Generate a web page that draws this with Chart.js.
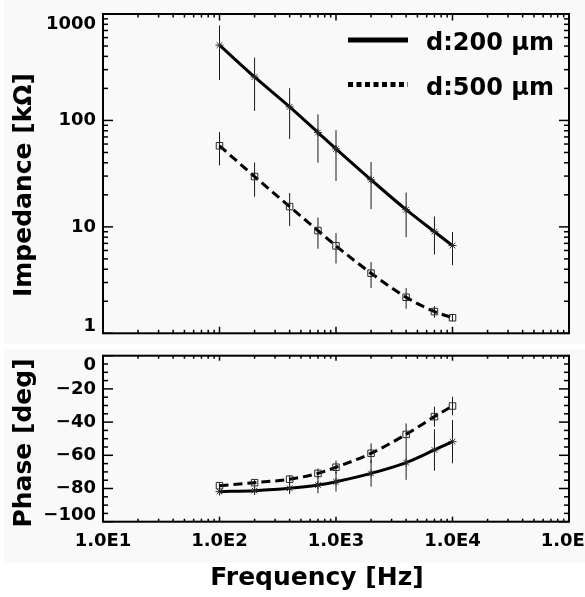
<!DOCTYPE html>
<html><head><meta charset="utf-8">
<script src="https://cdn.jsdelivr.net/npm/chart.js@4.4.0/dist/chart.umd.min.js"></script>
<style>
html,body{margin:0;padding:0;background:#fff;}
#wrap{position:relative;width:585px;height:597px;overflow:hidden;}
.panel{position:absolute;background:#f9f9f9;}
canvas{position:absolute;left:0;}
</style></head><body>
<div id="wrap">
<div class="panel" style="left:4px;top:0;width:581px;height:344px"></div>
<div class="panel" style="left:4px;top:349px;width:581px;height:214px"></div>
<canvas id="c1" width="585" height="345" style="top:0"></canvas>
<canvas id="c2" width="585" height="252" style="top:345px"></canvas>
</div>
<script>
// ---------- data ----------
const frequencies = [100, 200, 400, 700, 1000, 2000, 4000, 7000, 10000];
const seriesLabels = ['d:200 \u03bcm', 'd:500 \u03bcm'];
const impedance200 = [510, 256, 134, 77, 54, 27.7, 14.5, 9.0, 6.67];
const impedance200Err = [270, 133, 67, 37, 27, 13, 6.5, 3.5, 2.3];
const impedance500 = [57.8, 29.7, 15.5, 9.23, 6.63, 3.67, 2.18, 1.60, 1.40];
const impedance500Err = [20, 10.5, 5.3, 3, 2.1, 1.0, 0.48, 0.2, 0.1];
const phase200 = [-81.9, -81.3, -79.9, -77.9, -75.9, -70.9, -64.4, -56.8, -51.8];
const phase200Err = [1.5, 2.6, 3.4, 5, 6, 8, 10.4, 12.5, 13];
const phase500 = [-78.3, -76.5, -74.4, -70.9, -67.2, -58.8, -47.4, -36.7, -30.3];
const phase500Err = [1.5, 1.6, 2.4, 3, 4, 6, 6.6, 6, 5.6];

const freqTickValues = [10, 100, 1000, 10000, 100000];
const freqTickLabels = ['1.0E1', '1.0E2', '1.0E3', '1.0E4', '1.0E5'];
const impTickValues = [1, 10, 100, 1000];
const impTickLabels = ['1', '10', '100', '1000'];
const phaseTickValues = [0, -20, -40, -60, -80, -100];
const phaseTickLabels = ['0', '\u221220', '\u221240', '\u221260', '\u221280', '\u2212100'];

const yTitleTop = 'Impedance [k\u03a9]';
const yTitleBottom = 'Phase [deg]';
const xTitle = 'Frequency [Hz]';

// ---------- helpers ----------
const FONT = '"DejaVu Sans", sans-serif';
function toXY(xs, ys) { return xs.map((x, i) => ({x: x, y: ys[i]})); }
function logMinors(lo, hi) {
  const out = [];
  for (let d = lo; d < hi; d *= 10) for (let k = 2; k <= 9; k++) out.push(k * d);
  return out;
}
function linMinors(lo, hi, step, majorStep) {
  const out = [];
  for (let v = lo; v <= hi + 1e-9; v += step) if (Math.abs(v % majorStep) > 1e-6) out.push(v);
  return out;
}

const errorBars = {
  id: 'errorBars',
  beforeDatasetsDraw(chart) {
    const {ctx, chartArea: a} = chart;
    const xs = chart.scales.x, ys = chart.scales.y;
    const isLog = ys.type === 'logarithmic';
    ctx.save();
    ctx.beginPath(); ctx.rect(a.left, a.top, a.right - a.left, a.bottom - a.top); ctx.clip();
    ctx.strokeStyle = '#1a1a1a'; ctx.lineWidth = 1;
    chart.data.datasets.forEach(ds => {
      if (!ds.errors) return;
      ds.data.forEach((p, i) => {
        const px = xs.getPixelForValue(p.x);
        const e = ds.errors[i];
        const lo = isLog ? Math.max(p.y - e, 1e-6) : p.y - e;
        const y1 = ys.getPixelForValue(p.y + e);
        const y2 = ys.getPixelForValue(lo);
        ctx.beginPath(); ctx.moveTo(px, y1); ctx.lineTo(px, y2); ctx.stroke();
      });
    });
    ctx.restore();
  }
};

const framePlugin = {
  id: 'frame',
  afterDraw(chart, args, o) {
    const {ctx, chartArea: a} = chart;
    const xs = chart.scales.x, ys = chart.scales.y;
    ctx.save();
    ctx.strokeStyle = '#000';
    ctx.lineWidth = 1.5;
    const tick = (x1, y1, x2, y2) => { ctx.beginPath(); ctx.moveTo(x1, y1); ctx.lineTo(x2, y2); ctx.stroke(); };
    o.xMajor.forEach(v => { const px = xs.getPixelForValue(v);
      tick(px, a.bottom, px, a.bottom - o.xMajLen); tick(px, a.top, px, a.top + o.xMajLen); });
    o.xMinor.forEach(v => { const px = xs.getPixelForValue(v);
      tick(px, a.bottom, px, a.bottom - o.xMinLen); tick(px, a.top, px, a.top + o.xMinLen); });
    o.yMajor.forEach(v => { const py = ys.getPixelForValue(v);
      tick(a.left, py, a.left + o.yMajLen, py); tick(a.right, py, a.right - o.yMajLen, py); });
    o.yMinor.forEach(v => { const py = ys.getPixelForValue(v);
      tick(a.left, py, a.left + o.yMinLen, py); tick(a.right, py, a.right - o.yMinLen, py); });
    ctx.lineWidth = 2;
    ctx.strokeRect(a.left, a.top, a.right - a.left, a.bottom - a.top);
    ctx.fillStyle = '#000';
    ctx.font = 'bold 18px ' + FONT;
    ctx.textAlign = 'right'; ctx.textBaseline = 'middle';
    o.yLabelValues.forEach((v, i) => {
      let py = ys.getPixelForValue(v);
      py = Math.min(Math.max(py, a.top + 10), a.bottom - 6.5);
      ctx.fillText(o.yLabels[i], a.left - 7, py);
    });
    if (o.xLabels) {
      ctx.textAlign = 'center';
      o.xLabelValues.forEach((v, i) => {
        ctx.fillText(o.xLabels[i], xs.getPixelForValue(v), a.bottom + 20);
      });
    }
    ctx.font = 'bold 25px ' + FONT;
    ctx.textAlign = 'center'; ctx.textBaseline = 'middle';
    ctx.save();
    ctx.translate(o.yTitlePos[0], o.yTitlePos[1]);
    ctx.rotate(-Math.PI / 2);
    ctx.fillText(o.yTitle, 0, 0);
    ctx.restore();
    if (o.xTitle) ctx.fillText(o.xTitle, o.xTitlePos[0], o.xTitlePos[1]);
    if (o.legend) {
      chart.data.datasets.forEach((ds, i) => {
        const L = o.legend;
        const ly = L.y + i * L.dy;
        ctx.lineWidth = 5; ctx.lineCap = 'butt';
        ctx.setLineDash(i === 0 ? [] : [5, 3.5]);
        ctx.beginPath(); ctx.moveTo(L.x1, ly); ctx.lineTo(L.x2, ly); ctx.stroke();
        ctx.setLineDash([]);
        ctx.font = 'bold 24px ' + FONT;
        ctx.textAlign = 'left'; ctx.textBaseline = 'alphabetic';
        ctx.fillText(ds.label, L.tx, ly + 10);
      });
    }
    ctx.restore();
  }
};

function lineDataset(label, xs, ys, errs, solid) {
  return {
    label: label,
    data: toXY(xs, ys),
    errors: errs,
    borderColor: '#000',
    borderWidth: 3,
    borderDash: solid ? [] : [9, 5],
    cubicInterpolationMode: 'monotone',
    tension: 0.4,
    pointStyle: solid ? 'star' : 'rect',
    pointRadius: solid ? 4 : 4.6,
    pointBorderColor: '#2a2a2a',
    pointBorderWidth: 1,
    pointBackgroundColor: 'rgba(0,0,0,0)',
    fill: false
  };
}

const commonX = {type: 'logarithmic', min: 10, max: 100000, display: false};

new Chart(document.getElementById('c1'), {
  type: 'line',
  data: {datasets: [
    lineDataset(seriesLabels[0], frequencies, impedance200, impedance200Err, true),
    lineDataset(seriesLabels[1], frequencies, impedance500, impedance500Err, false)
  ]},
  options: {
    responsive: false, animation: false,
    layout: {padding: {left: 103, right: 16, top: 14, bottom: 11.7}},
    scales: {x: commonX, y: {type: 'logarithmic', min: 1, max: 1000, display: false}},
    plugins: {
      legend: {display: false}, tooltip: {enabled: false},
      frame: {
        xMajor: freqTickValues, xMinor: logMinors(10, 100000), xMajLen: 6.5, xMinLen: 3.5,
        yMajor: impTickValues, yMinor: logMinors(1, 1000), yMajLen: 10, yMinLen: 5,
        yLabelValues: impTickValues, yLabels: impTickLabels,
        yTitle: yTitleTop, yTitlePos: [24, 185],
        legend: {x1: 348, x2: 408, y: 40, dy: 44.5, tx: 426}
      }
    }
  },
  plugins: [errorBars, framePlugin]
});

new Chart(document.getElementById('c2'), {
  type: 'line',
  data: {datasets: [
    lineDataset(seriesLabels[0], frequencies, phase200, phase200Err, true),
    lineDataset(seriesLabels[1], frequencies, phase500, phase500Err, false)
  ]},
  options: {
    responsive: false, animation: false,
    layout: {padding: {left: 103, right: 16, top: 10.7, bottom: 75.3}},
    scales: {x: commonX, y: {type: 'linear', min: -100, max: 0, display: false}},
    plugins: {
      legend: {display: false}, tooltip: {enabled: false},
      frame: {
        xMajor: freqTickValues, xMinor: logMinors(10, 100000), xMajLen: 5, xMinLen: 3,
        yMajor: phaseTickValues, yMinor: linMinors(-100, 0, 5, 20), yMajLen: 10, yMinLen: 5,
        yLabelValues: phaseTickValues, yLabels: phaseTickLabels,
        xLabelValues: freqTickValues, xLabels: freqTickLabels,
        yTitle: yTitleBottom, yTitlePos: [24, 98],
        xTitle: xTitle, xTitlePos: [317, 233]
      }
    }
  },
  plugins: [errorBars, framePlugin]
});
</script>
</body></html>
